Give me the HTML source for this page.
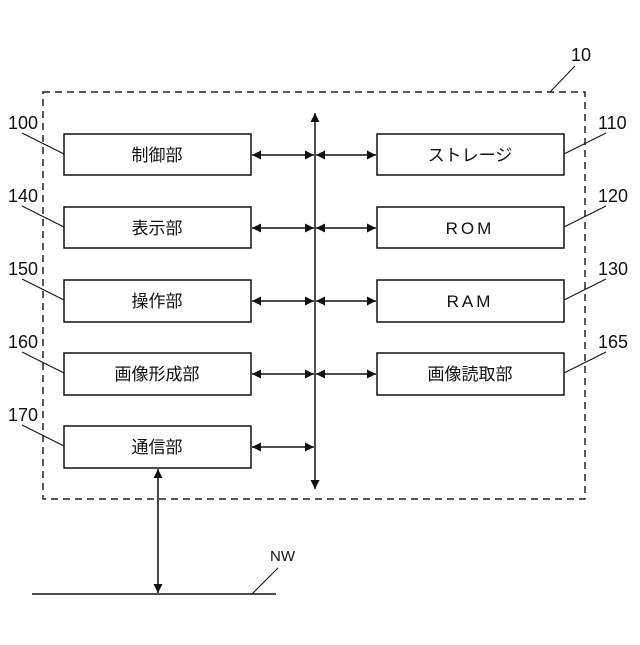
<!DOCTYPE html>
<html><head><meta charset="utf-8"><style>
body{margin:0;background:#fff}
text{font-family:"Liberation Sans","Noto Sans CJK JP",sans-serif;fill:#111}
</style></head><body>
<svg width="640" height="640" viewBox="0 0 640 640" xmlns="http://www.w3.org/2000/svg">
<defs>
<marker id="a" viewBox="0 0 10 10" refX="10" refY="5" markerWidth="10" markerHeight="9" orient="auto-start-reverse" markerUnits="userSpaceOnUse"><path d="M0,0 L10,5 L0,10 z" fill="#111"/></marker>
</defs>
<rect x="43" y="92" width="542" height="407" fill="none" stroke="#222" stroke-width="1.5" stroke-dasharray="7,5"/>
<g fill="none" stroke="#111" stroke-width="1.5">
<rect x="64" y="134" width="187" height="41"/>
<rect x="64" y="207" width="187" height="41"/>
<rect x="64" y="280" width="187" height="42"/>
<rect x="64" y="353" width="187" height="42"/>
<rect x="64" y="426" width="187" height="42"/>
<rect x="377" y="134" width="187" height="41"/>
<rect x="377" y="207" width="187" height="41"/>
<rect x="377" y="280" width="187" height="42"/>
<rect x="377" y="353" width="187" height="42"/>
<line x1="315" y1="113" x2="315" y2="489" marker-start="url(#a)" marker-end="url(#a)"/>
<line x1="252" y1="155" x2="314" y2="155" marker-start="url(#a)" marker-end="url(#a)"/>
<line x1="252" y1="228" x2="314" y2="228" marker-start="url(#a)" marker-end="url(#a)"/>
<line x1="252" y1="301" x2="314" y2="301" marker-start="url(#a)" marker-end="url(#a)"/>
<line x1="252" y1="374" x2="314" y2="374" marker-start="url(#a)" marker-end="url(#a)"/>
<line x1="252" y1="447" x2="314" y2="447" marker-start="url(#a)" marker-end="url(#a)"/>
<line x1="316" y1="155" x2="376" y2="155" marker-start="url(#a)" marker-end="url(#a)"/>
<line x1="316" y1="228" x2="376" y2="228" marker-start="url(#a)" marker-end="url(#a)"/>
<line x1="316" y1="301" x2="376" y2="301" marker-start="url(#a)" marker-end="url(#a)"/>
<line x1="316" y1="374" x2="376" y2="374" marker-start="url(#a)" marker-end="url(#a)"/>
<line x1="158" y1="469" x2="158" y2="593" marker-start="url(#a)" marker-end="url(#a)"/>
<line x1="32" y1="594" x2="276" y2="594"/>
<line x1="252" y1="594" x2="278" y2="568" stroke-width="1"/>
<line x1="550" y1="92" x2="575" y2="66" stroke-width="1"/>
<g stroke-width="1">
<line x1="22" y1="133" x2="64" y2="154"/>
<line x1="22" y1="206" x2="64" y2="227"/>
<line x1="22" y1="279" x2="64" y2="300"/>
<line x1="22" y1="352" x2="64" y2="373"/>
<line x1="22" y1="425" x2="64" y2="446"/>
<line x1="564" y1="154" x2="606" y2="133"/>
<line x1="564" y1="227" x2="606" y2="206"/>
<line x1="564" y1="300" x2="606" y2="279"/>
<line x1="564" y1="373" x2="606" y2="352"/>
</g>
</g>
<g font-size="17" text-anchor="middle">
<text x="157" y="161">制御部</text>
<text x="157" y="234">表示部</text>
<text x="157" y="307">操作部</text>
<text x="157" y="380">画像形成部</text>
<text x="157" y="453">通信部</text>
<text x="470" y="161">ストレージ</text>
<text x="470" y="234" letter-spacing="3">ROM</text>
<text x="470" y="307" letter-spacing="3">RAM</text>
<text x="470" y="380">画像読取部</text>
</g>
<g font-size="18">
<text x="8" y="129">100</text>
<text x="8" y="202">140</text>
<text x="8" y="275">150</text>
<text x="8" y="348">160</text>
<text x="8" y="421">170</text>
<text x="598" y="129">110</text>
<text x="598" y="202">120</text>
<text x="598" y="275">130</text>
<text x="598" y="348">165</text>
<text x="571" y="61">10</text>
<text x="270" y="561" font-size="15">NW</text>
</g>
</svg>
</body></html>
